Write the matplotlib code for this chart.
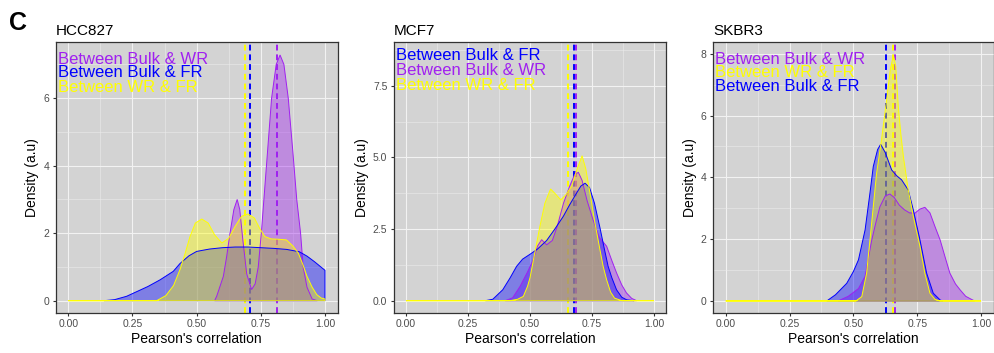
import matplotlib.pyplot as plt
from matplotlib.ticker import MultipleLocator

plt.rcParams["font.family"] = ["Liberation Sans", "DejaVu Sans"]

# -----------------------------
# DATA
# -----------------------------
panel_titles = ["HCC827", "MCF7", "SKBR3"]

# HCC827
hcc_wr_x = [0.57, 0.578, 0.604, 0.617, 0.63, 0.645, 0.658, 0.668, 0.68, 0.695, 0.714, 0.728, 0.74,
            0.752, 0.762, 0.775, 0.792, 0.81, 0.825, 0.84, 0.857, 0.875, 0.89, 0.905, 0.915, 0.93,
            0.95, 0.97]
hcc_wr_y = [0.0, 0.13, 0.72, 1.31, 2.0, 2.7, 3.0, 2.7, 1.8, 0.8, 0.33, 0.5, 1.0,
            2.0, 3.0, 4.3, 6.0, 7.0, 7.28, 7.0, 6.0, 4.4, 3.0, 2.0, 1.0, 0.4,
            0.05, 0.0]
hcc_fr_x = [0.139, 0.18, 0.227, 0.27, 0.31, 0.358, 0.409, 0.435, 0.47, 0.5, 0.55, 0.6, 0.65, 0.7,
            0.75, 0.8, 0.85, 0.9, 0.93, 0.96, 1.0, 1.0]
hcc_fr_y = [0.0, 0.03, 0.13, 0.28, 0.42, 0.62, 0.87, 1.1, 1.33, 1.46, 1.53, 1.57, 1.59, 1.59,
            1.57, 1.55, 1.52, 1.45, 1.32, 1.15, 0.9, 0.0]
hcc_wf_x = [0.0, 0.344, 0.38, 0.41, 0.435, 0.455, 0.474, 0.495, 0.52, 0.545, 0.57, 0.598, 0.625,
            0.65, 0.675, 0.70, 0.725, 0.745, 0.766, 0.79, 0.82, 0.85, 0.875, 0.896, 0.915, 0.93,
            0.95, 0.968, 0.985, 1.0, 1.0]
hcc_wf_y = [0.0, 0.0, 0.15, 0.45, 0.92, 1.4, 1.9, 2.3, 2.42, 2.3, 1.95, 1.71, 1.85,
            2.2, 2.5, 2.57, 2.45, 2.15, 1.9, 1.83, 1.82, 1.80, 1.62, 1.41, 1.05, 0.72,
            0.4, 0.18, 0.08, 0.05, 0.0]

# MCF7
mcf_wr_x = [0.40, 0.43, 0.46, 0.49, 0.513, 0.53, 0.547, 0.567, 0.59, 0.61, 0.635, 0.66, 0.68,
            0.695, 0.71, 0.73, 0.755, 0.78, 0.809, 0.83, 0.849, 0.87, 0.889, 0.91, 0.93]
mcf_wr_y = [0.0, 0.1, 0.5, 1.0, 1.43, 1.9, 2.13, 1.95, 2.1, 2.6, 3.4, 4.0, 4.4,
            4.48, 4.2, 3.5, 2.8, 2.2, 1.9, 1.4, 0.97, 0.55, 0.27, 0.08, 0.0]
mcf_fr_x = [0.32, 0.35, 0.39, 0.42, 0.446, 0.47, 0.50, 0.53, 0.567, 0.60, 0.634, 0.66, 0.688,
            0.705, 0.722, 0.74, 0.76, 0.782, 0.80, 0.815, 0.83, 0.849, 0.87, 0.89, 0.92]
mcf_fr_y = [0.0, 0.05, 0.38, 0.8, 1.2, 1.45, 1.62, 1.8, 2.1, 2.5, 2.94, 3.35, 3.76,
            4.0, 4.1, 3.95, 3.4, 2.55, 1.8, 1.2, 0.8, 0.38, 0.12, 0.03, 0.0]
mcf_wf_x = [0.0, 0.42, 0.45, 0.473, 0.49, 0.50, 0.52, 0.54, 0.56, 0.583, 0.60, 0.624, 0.645,
            0.668, 0.69, 0.71, 0.725, 0.745, 0.762, 0.782, 0.795, 0.809, 0.825, 0.841, 0.87, 1.0]
mcf_wf_y = [0.0, 0.0, 0.05, 0.15, 0.5, 0.8, 1.7, 2.6, 3.4, 3.9, 3.75, 3.52, 3.7,
            4.0, 4.6, 5.06, 4.6, 3.6, 2.71, 1.78, 1.2, 0.73, 0.3, 0.09, 0.0, 0.0]

# SKBR3
skb_wr_x = [0.44, 0.48, 0.52, 0.546, 0.572, 0.59, 0.604, 0.625, 0.643, 0.66, 0.68, 0.70, 0.72,
            0.741, 0.76, 0.78, 0.80, 0.82, 0.84, 0.86, 0.878, 0.90, 0.918, 0.94, 0.963, 0.975]
skb_wr_y = [0.0, 0.15, 0.4, 0.8, 1.97, 2.6, 3.05, 3.4, 3.46, 3.35, 3.1, 2.95, 2.85,
            2.84, 2.97, 3.03, 2.85, 2.4, 1.97, 1.4, 0.9, 0.55, 0.36, 0.15, 0.05, 0.0]
skb_fr_x = [0.396, 0.43, 0.474, 0.50, 0.52, 0.546, 0.565, 0.578, 0.595, 0.607, 0.625, 0.65, 0.67,
            0.689, 0.715, 0.735, 0.761, 0.787, 0.813, 0.84, 0.85]
skb_fr_y = [0.0, 0.2, 0.57, 0.95, 1.33, 2.3, 3.49, 4.35, 4.9, 5.07, 4.8, 4.24, 4.05,
            3.92, 3.59, 2.94, 1.97, 0.9, 0.25, 0.03, 0.0]
skb_wf_x = [0.0, 0.51, 0.533, 0.552, 0.565, 0.578, 0.591, 0.61, 0.63, 0.645, 0.657, 0.666, 0.676,
            0.686, 0.696, 0.715, 0.735, 0.761, 0.78, 0.80, 0.82, 0.84, 1.0]
skb_wf_y = [0.0, 0.0, 0.14, 0.9, 1.97, 3.05, 4.13, 5.2, 6.5, 7.5, 7.96, 7.6, 6.29,
            5.4, 4.67, 3.59, 2.73, 1.76, 0.9, 0.25, 0.05, 0.0, 0.0]

# medians (dashed lines): Bulk&WR, Bulk&FR, WR&FR
hcc_medians = [0.812, 0.708, 0.688]
mcf_medians = [0.685, 0.679, 0.652]
skb_medians = [0.663, 0.628, 0.654]

# label text, in the order listed per panel, and its y position
label_names = {"wr": "Between Bulk & WR", "fr": "Between Bulk & FR", "wf": "Between WR & FR"}
hcc_label_order = ["wr", "fr", "wf"]
mcf_label_order = ["fr", "wr", "wf"]
skb_label_order = ["wr", "wf", "fr"]
hcc_label_y = [7.16, 6.75, 6.33]
mcf_label_y = [8.55, 8.02, 7.5]
skb_label_y = [7.82, 7.4, 6.93]

hcc_ylim = (-0.365, 7.665)
mcf_ylim = (-0.43, 9.03)
skb_ylim = (-0.39, 8.38)
hcc_yticks = [0, 2, 4, 6]
mcf_yticks = [0.0, 2.5, 5.0, 7.5]
skb_yticks = [0, 2, 4, 6, 8]

colors = {"wr": "#A020F0", "fr": "#0000FF", "wf": "#FFFF00"}

panels = [
    {"curves": {"wr": (hcc_wr_x, hcc_wr_y), "fr": (hcc_fr_x, hcc_fr_y), "wf": (hcc_wf_x, hcc_wf_y)},
     "medians": hcc_medians, "order": hcc_label_order, "label_y": hcc_label_y,
     "ylim": hcc_ylim, "yticks": hcc_yticks, "yfmt": "{:.0f}"},
    {"curves": {"wr": (mcf_wr_x, mcf_wr_y), "fr": (mcf_fr_x, mcf_fr_y), "wf": (mcf_wf_x, mcf_wf_y)},
     "medians": mcf_medians, "order": mcf_label_order, "label_y": mcf_label_y,
     "ylim": mcf_ylim, "yticks": mcf_yticks, "yfmt": "{:.1f}"},
    {"curves": {"wr": (skb_wr_x, skb_wr_y), "fr": (skb_fr_x, skb_fr_y), "wf": (skb_wf_x, skb_wf_y)},
     "medians": skb_medians, "order": skb_label_order, "label_y": skb_label_y,
     "ylim": skb_ylim, "yticks": skb_yticks, "yfmt": "{:.0f}"},
]

# axes boxes in figure fractions (left, bottom, width, height)
W, H = 995, 353
boxes = [
    (55.5 / W, 40 / H, 282.3 / W, 271 / H),
    (393.6 / W, 40 / H, 272.8 / W, 271 / H),
    (712.9 / W, 40 / H, 280.9 / W, 271 / H),
]

# -----------------------------
# PLOT
# -----------------------------
fig = plt.figure(figsize=(W / 100, H / 100), dpi=100)

for i, p in enumerate(panels):
    ax = fig.add_axes(boxes[i])
    ax.set_facecolor("#D3D3D3")

    # dashed median lines sit under the density fills
    for key, med in zip(["wr", "fr", "wf"], p["medians"]):
        ax.axvline(med, color=colors[key], linestyle=(0, (3, 2)), linewidth=1.4, zorder=1.5)

    for key in ["wr", "fr", "wf"]:
        xs, ys = p["curves"][key]
        ax.fill(xs, ys, facecolor=colors[key], alpha=0.4, edgecolor="none", zorder=2)
        ax.fill(xs, ys, facecolor="none", edgecolor=colors[key], linewidth=0.7, zorder=2.1)

    for key, ty in zip(p["order"], p["label_y"]):
        ax.text(-0.04, ty, label_names[key], color=colors[key], fontsize=12,
                ha="left", va="center", zorder=3)

    ax.set_xlim(-0.05, 1.05)
    ax.set_ylim(*p["ylim"])
    ax.set_xticks([0.0, 0.25, 0.5, 0.75, 1.0])
    ax.set_xticklabels(["0.00", "0.25", "0.50", "0.75", "1.00"])
    ax.set_yticks(p["yticks"])
    ax.set_yticklabels([p["yfmt"].format(v) for v in p["yticks"]])
    ax.xaxis.set_minor_locator(MultipleLocator(0.125))
    ystep = p["yticks"][1] - p["yticks"][0]
    ax.yaxis.set_minor_locator(MultipleLocator(ystep / 2))

    ax.set_axisbelow(True)
    ax.grid(True, which="major", color="#F2F2F2", linewidth=0.8)
    ax.grid(True, which="minor", color="#EBEBEB", linewidth=0.4)
    ax.tick_params(which="major", length=2.5, width=0.8, color="#333333",
                   labelsize=7.5, labelcolor="#4D4D4D", pad=2)
    ax.tick_params(which="minor", length=0)
    for sp in ax.spines.values():
        sp.set_color("#333333")
        sp.set_linewidth(0.9)

    ax.set_xlabel("Pearson's correlation", fontsize=10, labelpad=2)
    ax.set_ylabel("Density (a.u)", fontsize=10, labelpad=3)
    ax.set_title(panel_titles[i], loc="left", fontsize=11, pad=5)

fig.text(9 / W, 1 - 23 / H, "C", fontsize=18, fontweight="bold", ha="left", va="center")

fig.savefig("out.png", dpi=100)
